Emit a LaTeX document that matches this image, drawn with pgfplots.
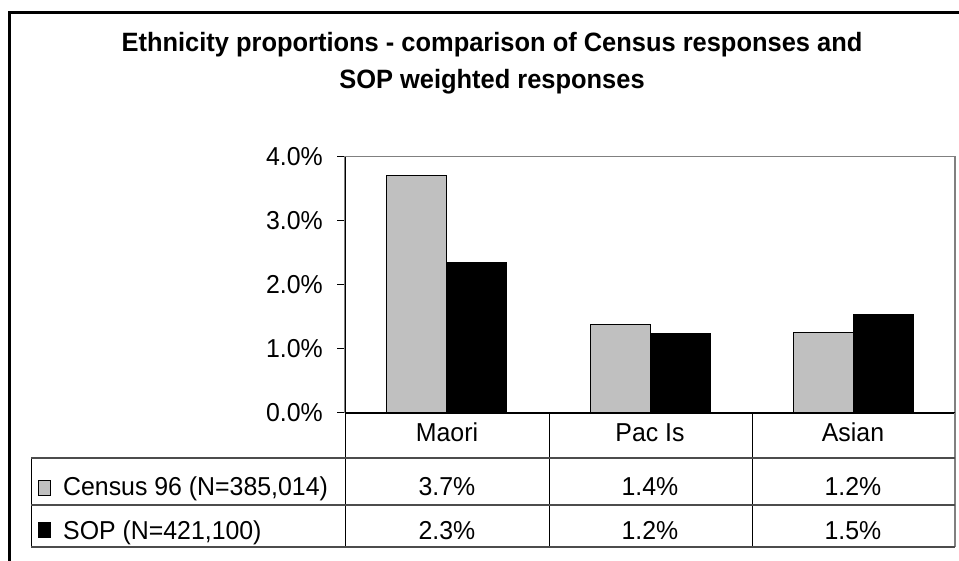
\documentclass[border=0pt]{standalone}
\usepackage{pgfplots}
\pgfplotsset{compat=1.18}
\usepackage{fontspec}
\setmainfont{Liberation Sans}[FakeStretch=0.96]
\definecolor{barGray}{HTML}{C0C0C0}
\definecolor{frameGray}{HTML}{808080}
\begin{document}
\begin{tikzpicture}[x=1bp,y=1bp]
\useasboundingbox (0,0) rectangle (959,561);
% outer chart frame
\draw[line width=2.5bp] (9.5,0) -- (9.5,548.5) -- (961,548.5);
% title
\node[anchor=base,inner sep=0] at (492,509) {\fontsize{26.6}{30}\selectfont\bfseries Ethnicity proportions - comparison of Census responses and};
\node[anchor=base,inner sep=0] at (492,472) {\fontsize{26.6}{30}\selectfont\bfseries SOP weighted responses};
\begin{axis}[
  at={(345bp,148.3bp)}, anchor=south west,
  scale only axis, width=610bp, height=256bp,
  xmin=-0.5, xmax=2.5, ymin=0, ymax=4,
  ybar=0pt, bar width=60bp,
  xtick=\empty,
  ytick={0,1,2,3,4},
  yticklabel={\pgfmathprintnumber[fixed,fixed zerofill,precision=1]{\tick}\%},
  /pgf/number format/assume math mode=true,
  yticklabel style={font=\fontsize{26}{30}\selectfont, inner sep=0pt, xshift=-14bp},
  tick align=outside, major tick length=8bp,
  ytick pos=left,
  tick style={black, line width=0.8bp},
  axis line style={frameGray, line width=1.5bp},
  clip=false,
]
\addplot[draw=black, line width=1bp, fill=barGray] coordinates {(0,3.70) (1,1.38) (2,1.25)};
\addplot[draw=black, line width=1bp, fill=black] coordinates {(0,2.34) (1,1.23) (2,1.54)};
\draw[black, line width=1bp] (rel axis cs:0,0) -- (rel axis cs:0,1);
\draw[black, line width=2bp] (rel axis cs:0,0) -- (rel axis cs:1,0);
\end{axis}
% data table
\draw[black, line width=0.9bp] (549,148.3) -- (549,14) (752,148.3) -- (752,14) (345,148.3) -- (345,14);
\draw[frameGray, line width=1.2bp] (955,148.3) -- (955,14);
\draw[black, line width=0.9bp] (31,103) -- (31,14);
\draw[black!70, line width=1.2bp] (31,103) -- (955,103) (31,56) -- (955,56) (31,14) -- (955,14);
\begin{scope}[every node/.style={anchor=base,inner sep=0,font=\fontsize{26}{30}\selectfont}]
\node at (447,119) {Maori};
\node at (650,119) {Pac Is};
\node at (853,119) {Asian};
\node at (447,65) {3.7\%};
\node at (650,65) {1.4\%};
\node at (853,65) {1.2\%};
\node at (447,21) {2.3\%};
\node at (650,21) {1.2\%};
\node at (853,21) {1.5\%};
\node[anchor=base west] at (63,65) {Census 96 (N=385,014)};
\node[anchor=base west] at (63,21) {SOP (N=421,100)};
\end{scope}
\draw[black, line width=0.8bp, fill=barGray] (38.5,66) rectangle (50.5,80.5);
\draw[black, line width=0.8bp, fill=black] (38.5,23.5) rectangle (50.5,38.5);
\end{tikzpicture}
\end{document}
